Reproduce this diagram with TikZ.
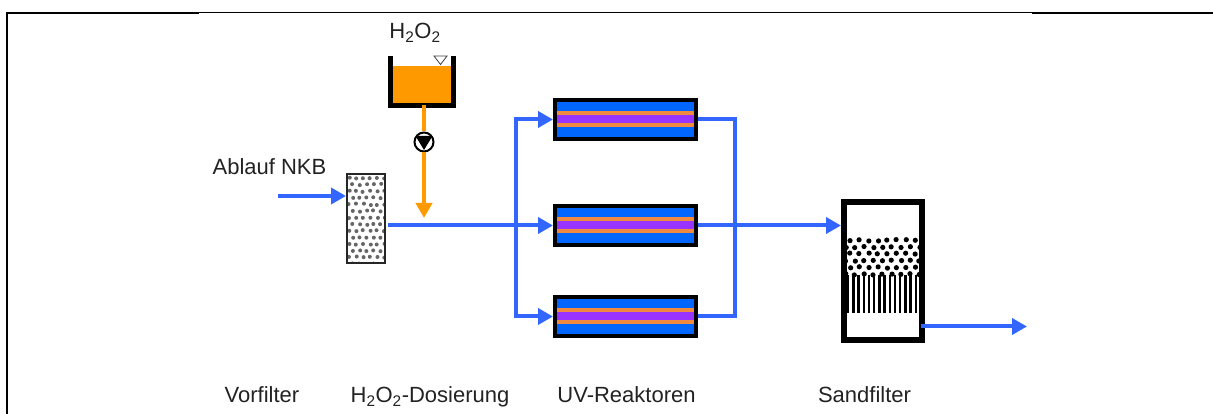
\documentclass[tikz,border=0pt]{standalone}
\usepackage{fontspec}
\setmainfont{Liberation Sans}
\usetikzlibrary{positioning,arrows.meta,calc}

\definecolor{flowblue}{HTML}{3366FF}
\definecolor{doseorange}{HTML}{FF9900}
\definecolor{uvblue}{HTML}{0066FF}
\definecolor{uvpurple}{HTML}{9933FF}
\definecolor{uvorange}{HTML}{F08A40}
\definecolor{txtgray}{HTML}{222222}

\begin{document}
\begin{tikzpicture}[
  x=1pt, y=1pt,
  font=\fontsize{22}{25}\selectfont,
  lbl/.style={anchor=base, text=txtgray, inner sep=0pt},
  flow/.style={draw=flowblue, line width=4pt},
  flowarr/.style={flow, -{Triangle[length=15pt,width=16pt]}},
  dose/.style={draw=doseorange, line width=4pt},
  dosearr/.style={dose, -{Triangle[length=15pt,width=16pt]}},
  wall/.style={line width=5pt, line join=miter},
  frame/.style={line width=2pt},
  reactor/.style={
    draw, line width=4pt, fill=uvblue, minimum width=141pt, minimum height=39pt, inner sep=0pt,
    path picture={
      \fill[uvorange] ($(path picture bounding box.center)+(-80pt,8pt)$) rectangle ($(path picture bounding box.center)+(80pt,-8pt)$);
      \fill[uvpurple] ($(path picture bounding box.center)+(-80pt,4pt)$) rectangle ($(path picture bounding box.center)+(80pt,-4pt)$);
    }},
  prefilter/.style={
    draw=black!85, line width=2pt, fill=white, minimum width=38pt, minimum height=89pt, inner sep=0pt,
    path picture={
      \pgfmathsetseed{11}
      \foreach \row in {0,...,14}
        \foreach \col in {0,...,6} {
          \pgfmathsetmacro{\dx}{-21+\col*7+mod(\row,2)*3.5+rnd*1.5}
          \pgfmathsetmacro{\dy}{-46+\row*6.6+rnd*1.5}
          \fill[black!60] ($(path picture bounding box.center)+(\dx pt,\dy pt)$) circle (2pt);
        }
    }},
  sandbox/.style={
    draw, line width=6pt, fill=white, minimum width=78pt, minimum height=138pt, inner sep=0pt,
    path picture={
      \pgfmathsetseed{5}
      \foreach \i in {0,...,13}
        \fill[black] ($(path picture bounding box.center)+(-35pt+\i*5.2pt,-4pt)$) ++(-1pt,0pt) rectangle ++(2.4pt,-38pt);
      \foreach \row in {0,...,5}
        \foreach \col in {0,...,8} {
          \pgfmathsetmacro{\dx}{-38+\col*9.2+mod(\row,2)*4.6+rnd*1.5}
          \pgfmathsetmacro{\dy}{-4+\row*6.8+rnd*1.5}
          \fill[black] ($(path picture bounding box.center)+(\dx pt,\dy pt)$) circle (2.6pt);
        }
    }}
]

% page frame
\useasboundingbox (0,0) rectangle (1213,414);
\draw[frame] (7,0) -- (7,401) -- (199,401);
\draw[line width=1pt] (199,401) -- (1032,401);
\draw[frame] (1032,401) -- (1213,401);

% nodes
\node[prefilter] (vorf) at (366,195.5) {};
\node[reactor] (rb) at (625.5,188.5) {};
\node[reactor, above=63pt of rb] (ra) {};
\node[reactor, below=48pt of rb] (rc) {};
\node[sandbox] (sand) at (883,143) {};

\node[fill=doseorange, minimum width=63pt, minimum height=39pt, inner sep=0pt] (tank) at (422,328.5) {};
\node[draw, fill=white, circle, line width=2pt, minimum size=19pt, inner sep=0pt,
  path picture={
    \fill[black] ($(path picture bounding box.center)+(-8.5pt,6pt)$) -- ($(path picture bounding box.center)+(8.5pt,6pt)$)
      -- ($(path picture bounding box.center)+(0pt,-8pt)$) -- cycle;
  }] (pump) at (424,272) {};

\coordinate (inlet) at (278,218);
\coordinate (dosept) at (424,196);
\coordinate (split) at (516,188.5);
\coordinate (join) at (735,188.5);
\coordinate (outlet) at (1027,87.5);

% tank walls and level mark
\draw[wall] ([yshift=10pt]tank.north west) -- (tank.south west) -- (tank.south east) -- ([yshift=10pt]tank.north east);
\draw[black!75, fill=white, line width=0.8pt] (434,358) -- (447,358) -- (440.5,349.5) -- cycle;

% labels
\node[lbl] (h2o2) at (415,375) {H\textsubscript{2}O\textsubscript{2}};
\node[lbl] (nkb) at (269.5,239) {Ablauf NKB};
\node[lbl] (lvorf) at (262,11) {Vorfilter};
\node[lbl] (ldos) at (430,11) {H\textsubscript{2}O\textsubscript{2}-Dosierung};
\node[lbl] (luv) at (626.5,11) {UV-Reaktoren};
\node[lbl] (lsand) at (864.5,11) {Sandfilter};

% arrows
\draw[dose] (tank.south -| pump) -- (pump);
\draw[dosearr] (pump) -- (dosept);
\draw[flowarr] (inlet) -- (vorf.west |- inlet);
\draw[flowarr] ([xshift=2pt]vorf.east |- rb) -- (rb.west);
\draw[flowarr] (split) |- (ra.west);
\draw[flowarr] (split) |- (rc.west);
\draw[flow] (ra.east) -| (join) |- (rc.east);
\draw[flowarr] (rb.east) -- (sand.west |- rb);
\draw[flowarr] ([xshift=-4pt]sand.east |- outlet) -- (outlet);

\end{tikzpicture}
\end{document}
